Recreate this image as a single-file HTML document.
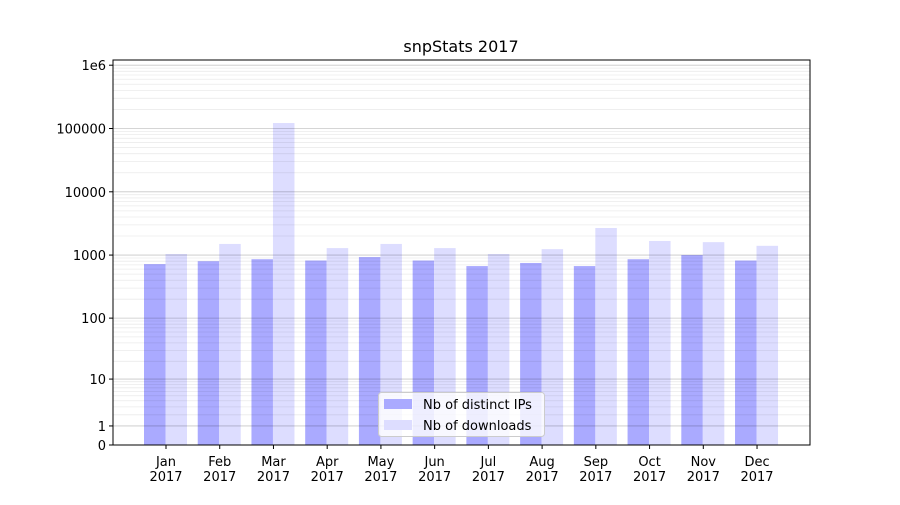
<!DOCTYPE html>
<html><head><meta charset="utf-8"><style>
body{margin:0;background:#fff;font-family:"Liberation Sans","DejaVu Sans",sans-serif}
svg text{font-family:"DejaVu Sans","Liberation Sans",sans-serif;font-size:13px;fill:#000}
</style></head><body>
<svg id="chart" width="900" height="500" xmlns="http://www.w3.org/2000/svg">
<rect width="900" height="500" fill="#fff"/>
<text x="461" y="52" text-anchor="middle" style="font-size:16px">snpStats 2017</text>
<g id="bars"></g><g id="grid"></g><g id="axes"></g>
</svg>
<script>
const categories=["Jan","Feb","Mar","Apr","May","Jun","Jul","Aug","Sep","Oct","Nov","Dec"];
const distinctIPs=[720,800,860,820,930,820,670,750,670,860,1000,820];
const downloads=[1040,1500,122000,1290,1500,1290,1040,1240,2680,1670,1600,1400];
const yTicks=[0,1,10,100,1000,10000,100000,1000000];
const yTickLabels=["0","1","10","100","1000","10000","100000","1e6"];
const NS="http://www.w3.org/2000/svg";
const L=113,R=810,T=60,B=445;
function y(v){return B-63.3*Math.log10(v+1);}
function xc(i){return 166+i*53.73;}
function mk(tag,attrs,parent){const e=document.createElementNS(NS,tag);for(const k in attrs)e.setAttribute(k,attrs[k]);parent.appendChild(e);return e;}
const grid=document.getElementById('grid'),bars=document.getElementById('bars'),axes=document.getElementById('axes');
for(let d=0;d<6;d++)for(let m=2;m<=9;m++){const v=m*Math.pow(10,d);const yy=y(v);if(yy<T)continue;
const g=mk('line',{x1:L,x2:R,y1:yy,y2:yy,stroke:'#000','stroke-opacity':0.08,'stroke-width':0.8},grid);

}
yTicks.forEach((v,i)=>{const yy=y(v);
const g=mk('line',{x1:L,x2:R,y1:yy,y2:yy,stroke:'#000','stroke-opacity':0.22,'stroke-width':0.8},grid);


mk('line',{x1:L-4,x2:L,y1:yy,y2:yy,stroke:'#000'},axes);
const t=mk('text',{x:L-7,y:yy+5,'text-anchor':'end'},axes);t.textContent=yTickLabels[i];

});
categories.forEach((c,i)=>{const cx=xc(i);
const b1=mk('rect',{x:cx-22,y:y(distinctIPs[i]),width:21.5,height:B-y(distinctIPs[i]),fill:'#aaaaff'},bars);


const b2=mk('rect',{x:cx-0.5,y:y(downloads[i]),width:21.5,height:B-y(downloads[i]),fill:'#ddddff'},bars);


mk('line',{x1:cx,x2:cx,y1:B,y2:B+4,stroke:'#000'},axes);
const t=mk('text',{x:cx,y:B+21,'text-anchor':'middle'},axes);t.textContent=c;


const t2=mk('text',{x:cx,y:B+36,'text-anchor':'middle'},axes);t2.textContent='2017';

});
const fr=mk('rect',{x:L,y:T,width:R-L,height:B-T,fill:'none',stroke:'#000','stroke-width':1},axes);


const lg=mk('g',{},axes);


mk('rect',{x:378.5,y:392.5,width:166,height:44,rx:3,fill:'#fff','fill-opacity':0.8,stroke:'#ccc'},lg);
mk('rect',{x:384,y:399,width:28,height:10,fill:'#aaaaff'},lg);
mk('rect',{x:384,y:420,width:28,height:10,fill:'#ddddff'},lg);
const l1=mk('text',{x:423,y:409},lg);l1.textContent='Nb of distinct IPs';


const l2=mk('text',{x:423,y:430},lg);l2.textContent='Nb of downloads';


</script>
</body></html>
